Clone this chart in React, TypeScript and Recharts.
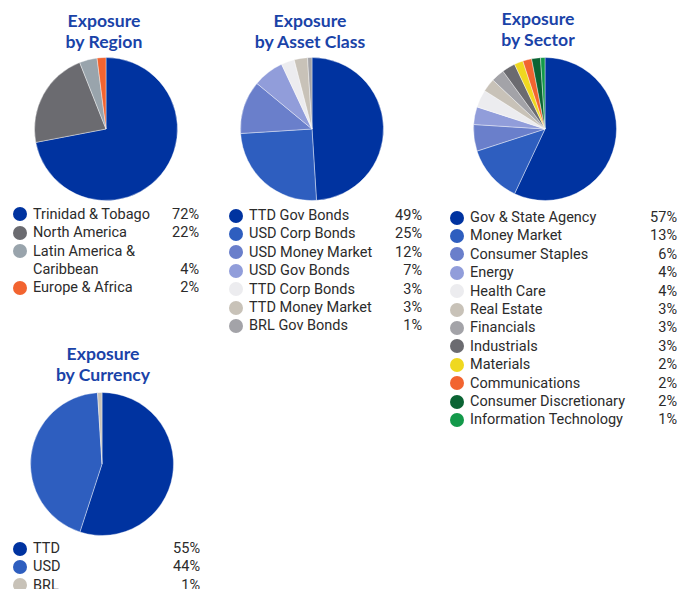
import { PieChart, Pie, Cell } from "recharts"

const regionNames = ["Trinidad & Tobago", "North America", "Latin America & Caribbean", "Europe & Africa"]
const regionValues = [72, 22, 4, 2]
const regionColors = ["#0033a0", "#6b6b70", "#99a4ac", "#f26430"]

const assetNames = [
  "TTD Gov Bonds",
  "USD Corp Bonds",
  "USD Money Market",
  "USD Gov Bonds",
  "TTD Corp Bonds",
  "TTD Money Market",
  "BRL Gov Bonds",
]
const assetValues = [49, 25, 12, 7, 3, 3, 1]
const assetColors = ["#0033a0", "#2e5ebf", "#6a7fcb", "#919dda", "#ececef", "#c8c2b8", "#a3a3a8"]

const sectorNames = [
  "Gov & State Agency",
  "Money Market",
  "Consumer Staples",
  "Energy",
  "Health Care",
  "Real Estate",
  "Financials",
  "Industrials",
  "Materials",
  "Communications",
  "Consumer Discretionary",
  "Information Technology",
]
const sectorValues = [57, 13, 6, 4, 4, 3, 3, 3, 2, 2, 2, 1]
const sectorColors = [
  "#0033a0",
  "#2e5ebf",
  "#6a7fcb",
  "#919dda",
  "#ececef",
  "#c8c2b8",
  "#a3a3a8",
  "#6b6b70",
  "#efd820",
  "#f26430",
  "#0b6434",
  "#13994a",
]

const currencyNames = ["TTD", "USD", "BRL"]
const currencyValues = [55, 44, 1]
const currencyColors = ["#0033a0", "#2e5ebf", "#c8c2b8"]

type PanelProps = {
  title: string[]
  names: string[]
  values: number[]
  colors: string[]
  cx: number
  cy: number
  titleX: number
  titleY: number
  dotX: number
  legendTop: number
  pctRight: number
  labelWidth: number
}

function Panel(p: PanelProps) {
  const data = p.names.map((name, i) => ({ name, value: p.values[i] }))
  return (
    <>
      <div
        style={{
          position: "absolute",
          left: p.titleX - 100,
          width: 200,
          top: p.titleY - 10.5,
          textAlign: "center",
          fontFamily: "Lato, sans-serif",
          fontWeight: 700,
          fontSize: 17.6,
          lineHeight: "21px",
          color: "#1a43a8",
        }}
      >
        {p.title.map((t) => (
          <div key={t}>{t}</div>
        ))}
      </div>
      <div style={{ position: "absolute", left: p.cx - 80, top: p.cy - 80 }}>
        <PieChart width={160} height={160} margin={{ top: 0, right: 0, bottom: 0, left: 0 }}>
          <Pie
            data={data}
            dataKey="value"
            nameKey="name"
            cx={80}
            cy={80}
            outerRadius={71.5}
            startAngle={90}
            endAngle={-270}
            stroke="#ffffff"
            strokeWidth={0.4}
            isAnimationActive={false}
          >
            {data.map((d, i) => (
              <Cell key={d.name} fill={p.colors[i]} />
            ))}
          </Pie>
        </PieChart>
      </div>
      <div
        style={{
          position: "absolute",
          left: p.dotX - 7,
          top: p.legendTop + 1.5,
          width: p.pctRight - (p.dotX - 7),
          fontFamily: "Roboto, sans-serif",
          fontSize: 14.5,
          lineHeight: "18.4px",
          color: "#2b2b2b",
        }}
      >
        {data.map((d, i) => (
          <div key={d.name} style={{ position: "relative", paddingLeft: 20 }}>
            <span
              style={{
                position: "absolute",
                left: 0,
                top: 1.5,
                width: 14,
                height: 14,
                borderRadius: "50%",
                background: p.colors[i],
              }}
            />
            <div style={{ width: p.labelWidth }}>{d.name}</div>
            <span style={{ position: "absolute", right: 0, bottom: 0 }}>{d.value}%</span>
          </div>
        ))}
      </div>
    </>
  )
}

export default function App() {
  return (
    <div
      style={{
        position: "absolute",
        left: 0,
        top: 0,
        width: 689,
        height: 589,
        background: "#ffffff",
        overflow: "hidden",
      }}
    >
      <Panel
        title={["Exposure", "by Region"]}
        names={regionNames}
        values={regionValues}
        colors={regionColors}
        cx={106}
        cy={129}
        titleX={104}
        titleY={20}
        dotX={20}
        legendTop={204.3}
        pctRight={199}
        labelWidth={125}
      />
      <Panel
        title={["Exposure", "by Asset Class"]}
        names={assetNames}
        values={assetValues}
        colors={assetColors}
        cx={312}
        cy={129}
        titleX={310}
        titleY={20}
        dotX={236}
        legendTop={205.5}
        pctRight={422}
        labelWidth={140}
      />
      <Panel
        title={["Exposure", "by Sector"]}
        names={sectorNames}
        values={sectorValues}
        colors={sectorColors}
        cx={545}
        cy={129}
        titleX={538}
        titleY={18}
        dotX={457}
        legendTop={207.5}
        pctRight={677}
        labelWidth={170}
      />
      <Panel
        title={["Exposure", "by Currency"]}
        names={currencyNames}
        values={currencyValues}
        colors={currencyColors}
        cx={102}
        cy={464}
        titleX={103}
        titleY={353}
        dotX={20}
        legendTop={538.5}
        pctRight={200}
        labelWidth={120}
      />
    </div>
  )
}
